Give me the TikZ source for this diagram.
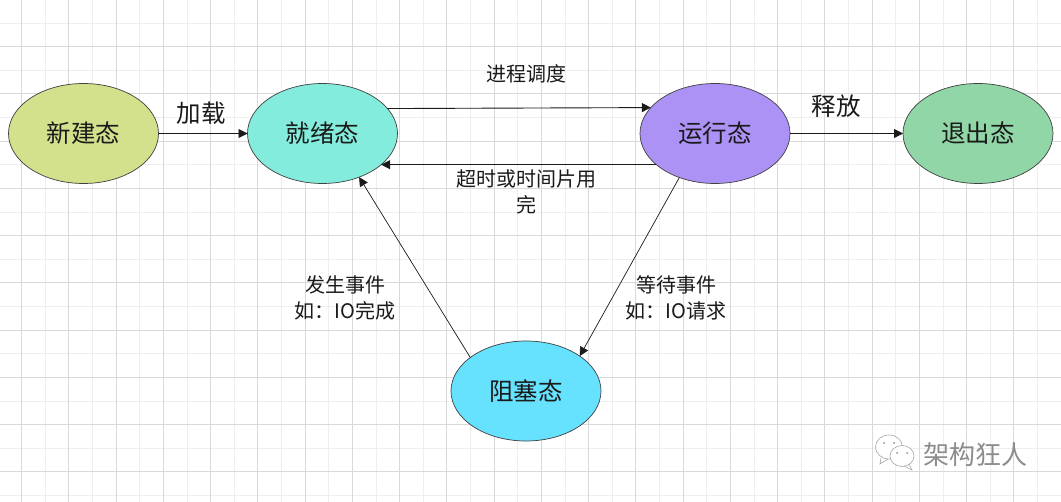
\documentclass[tikz,border=0pt]{standalone}
\usepackage{fontspec}
\setmainfont{Noto Sans CJK SC}
\usetikzlibrary{shapes.geometric,arrows.meta}
\definecolor{gridmajor}{HTML}{D9D9D9}
\definecolor{gridminor}{HTML}{EEEEEE}
\definecolor{newc}{HTML}{D3E08C}
\definecolor{readyc}{HTML}{84ECDC}
\definecolor{runc}{HTML}{AC92F5}
\definecolor{exitc}{HTML}{90D6A6}
\definecolor{blockc}{HTML}{66E2FF}
\definecolor{inkc}{HTML}{1A1A1A}
\tikzset{
  state/.style={ellipse,draw=black!75,line width=0.7pt,minimum width=150pt,minimum height=100pt,inner sep=0pt,outer sep=0pt,text=inkc,font=\fontsize{24.5}{28}\selectfont},
  flow/.style={draw=inkc,line width=0.9pt,-{Triangle[length=9pt,width=9pt]}},
  thinflow/.style={flow,line width=0.7pt},
  bigtag/.style={text=inkc,inner sep=0pt,font=\fontsize{24.5}{28}\selectfont},
  smalltag/.style={text=inkc,inner sep=0pt,align=center,font=\fontsize{20}{26}\selectfont},
  gmaj/.style={draw=gridmajor,line width=1pt},
  gmin/.style={draw=gridminor,line width=1pt},
  mark text/.style={text=black!45,inner sep=0pt,font=\fontsize{26}{28}\selectfont}
}
\begin{document}
\begin{tikzpicture}[x=1pt,y=-1pt]
\useasboundingbox (0,0) rectangle (1061,502);
\fill[white] (0,0) rectangle (1061,502);
% grid
\foreach \i in {0,...,44}{
  \pgfmathsetmacro{\gx}{21.7-23.625+23.625*\i}
  \draw[gmin] (\gx,0) -- (\gx,502);
}
\foreach \i in {0,...,21}{
  \pgfmathsetmacro{\gy}{23.1+23.625*\i}
  \draw[gmin] (0,\gy) -- (1061,\gy);
}
\foreach \i in {0,...,22}{
  \pgfmathsetmacro{\gx}{21.7+47.25*\i}
  \draw[gmaj] (\gx,0) -- (\gx,502);
}
\foreach \i in {0,...,9}{
  \pgfmathsetmacro{\gy}{46.7+47.25*\i}
  \draw[gmaj] (0,\gy) -- (1061,\gy);
}
% states
\node[state,fill=newc]   (new)   at (83.5,133.5) {\raisebox{-1pt}{新建态}};
\node[state,fill=readyc] (ready) at (322.5,133.5) {\raisebox{-1pt}{就绪态}};
\node[state,fill=runc]   (run)   at (715,133.5) {\raisebox{-1pt}{运行态}};
\node[state,fill=exitc]  (exit)  at (978,133.5) {\raisebox{-1pt}{退出态}};
\node[state,fill=blockc] (block) at (526,391) {\raisebox{-1pt}{阻塞态}};
% connectors
\draw[flow] (new.east) -- (ready.west);
\draw[flow] (ready.21.6) -- (run.158.4);
\draw[flow] (run.208.6) -- (ready.-28.6);
\draw[thinflow] (run.231.6) -- (block.33);
\draw[thinflow] (block.149.5) -- (ready.-50.1);
\draw[flow] (run.east) -- (exit.west);
% labels
\node[bigtag] (lload) at (201,113.5) {加载};
\node[bigtag] (lfree) at (836,106.5) {释放};
\node[smalltag] (lsched) at (526,74) {进程调度};
\node[smalltag] (ltime) at (526,191.5) {超时或时间片用\\完};
\node[smalltag] (lwake) at (345,297.5) {发生事件\\如：IO完成};
\node[smalltag] (lwait) at (676,297.5) {等待事件\\如：IO请求};
% watermark
\node[mark text] (wm) at (975,455) {架构狂人};
\draw[black!35,line width=0.6pt,fill=white] (889,447) ellipse [x radius=13.5,y radius=12];
\draw[black!35,line width=0.6pt] (881,458) -- (880,464) -- (888,459);
\fill[black!45] (884,443) circle (1pt) (894,443) circle (1pt);
\draw[black!35,line width=0.6pt,fill=white] (902,456) ellipse [x radius=12,y radius=10.5];
\draw[black!35,line width=0.6pt] (909,464) -- (912,470) -- (904,466);
\fill[black!45] (897,453) circle (1pt) (907,453) circle (1pt);
\end{tikzpicture}
\end{document}
